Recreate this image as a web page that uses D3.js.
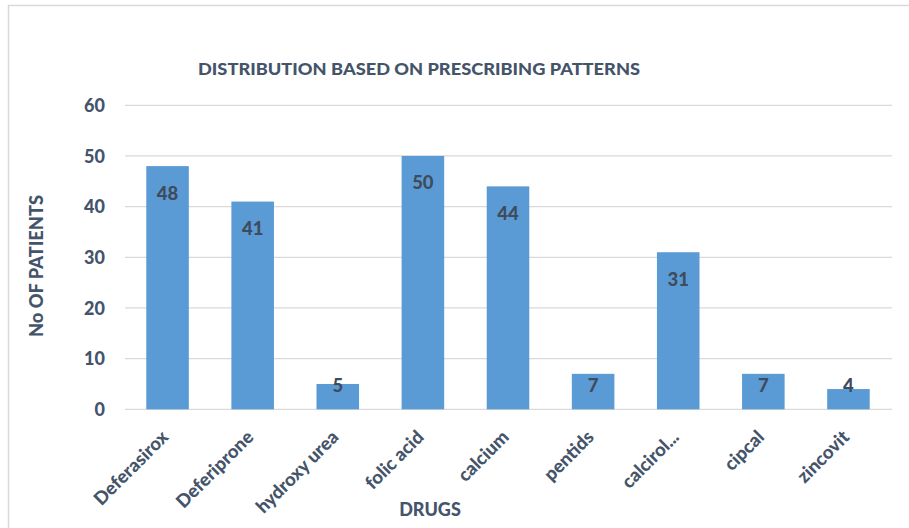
<!DOCTYPE html>
<html><head><meta charset="utf-8">
<script src="https://cdn.jsdelivr.net/npm/d3@7"></script>
<style>body{margin:0;background:#fff}svg{display:block}</style>
</head><body>
<script>
const categories = ["Deferasirox","Deferiprone","hydroxy urea","folic acid","calcium","pentids","calcirol...","cipcal","zincovit"];
const values = [48,41,5,50,44,7,31,7,4];
const yTicks = [0,10,20,30,40,50,60];
const title = "DISTRIBUTION BASED ON PRESCRIBING PATTERNS";
const xTitle = "DRUGS";
const yTitle = "No OF PATIENTS";

const W = 909, H = 528;
const txt = "#44546A", font = "Lato, 'Open Sans', sans-serif";
const svg = d3.select("body").append("svg").attr("width", W).attr("height", H);
svg.append("rect").attr("x",8.5).attr("y",5.5).attr("width",W+10).attr("height",H+10)
  .attr("fill","#fff").attr("stroke","#D9D9D9").attr("stroke-width",1.5);

const x = d3.scaleBand().domain(categories).range([125, 891]).paddingInner(0.5).paddingOuter(0.25);
const y = d3.scaleLinear().domain([0, 60]).range([409.3, 105.3]);

const g = svg.append("g");
g.selectAll("line.grid").data(yTicks).join("line").attr("class","grid")
  .attr("x1",125).attr("x2",892).attr("y1",d=>y(d)).attr("y2",d=>y(d))
  .attr("stroke","#D9D9D9").attr("stroke-width",1.3);

const yAxis = d3.axisLeft(y).tickValues(yTicks).tickSize(0).tickPadding(0);
const ya = svg.append("g").attr("transform","translate(105,0)").call(yAxis);
ya.select(".domain").remove();
ya.selectAll("text").attr("fill",txt).attr("font-family",font).attr("font-weight","900")
  .attr("font-size",18).attr("dy","0.35em");

g.selectAll("rect.bar").data(values).join("rect").attr("class","bar")
  .attr("x",(d,i)=>x(categories[i])).attr("width",x.bandwidth())
  .attr("y",d=>y(d)).attr("height",d=>y(0)-y(d)).attr("fill","#5B9BD5");

g.selectAll("text.lbl").data(values).join("text").attr("class","lbl")
  .attr("x",(d,i)=>x(categories[i])+x.bandwidth()/2)
  .attr("y",d=>Math.min(y(d)+27, y(0)-23.5))
  .attr("dy","0.35em").attr("text-anchor","middle")
  .attr("fill","#404B5C").attr("font-family",font).attr("font-weight","900").attr("font-size",18.5)
  .text(d=>d);

const xAxis = d3.axisBottom(x).tickSize(0).tickPadding(0);
const xa = svg.append("g").attr("transform","translate(0,409.3)").call(xAxis);
xa.select(".domain").remove();
xa.selectAll("text").attr("fill",txt).attr("font-family",font).attr("font-weight","900")
  .attr("font-size",18.5).attr("text-anchor","end").attr("dy",null).attr("y",0)
  .attr("transform","translate(2,29) rotate(-45)");

svg.append("text").attr("x",419).attr("y",69).attr("dy","0.35em").attr("text-anchor","middle")
  .attr("fill",txt).attr("font-family",font).attr("font-weight","900").attr("font-size",16.5)
  .attr("textLength",442).attr("lengthAdjust","spacingAndGlyphs").text(title);
svg.append("text").attr("x",430).attr("y",510).attr("dy","0.35em").attr("text-anchor","middle")
  .attr("fill",txt).attr("font-family",font).attr("font-weight","900").attr("font-size",18).text(xTitle);
svg.append("text").attr("transform","translate(37,266) rotate(-90)").attr("dy","0.35em").attr("text-anchor","middle")
  .attr("fill",txt).attr("font-family",font).attr("font-weight","900").attr("font-size",18.3).text(yTitle);
</script>
</body></html>
